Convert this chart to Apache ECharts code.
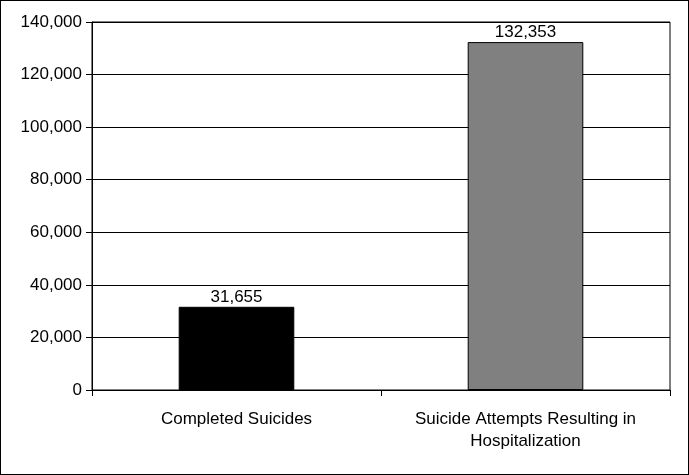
<!DOCTYPE html>
<html><head><meta charset="utf-8">
<script src="https://cdn.jsdelivr.net/npm/echarts@6/dist/echarts.min.js"></script>
<style>body{margin:0;background:#fff}#c{width:689px;height:475px;box-sizing:border-box;border:1px solid #000}</style>
</head><body><div id="c"></div>
<script>
var categories = ['Completed Suicides', 'Suicide Attempts Resulting in\nHospitalization'];
var values = [31655, 132353];
var barColors = ['#000000', '#808080'];

var chart = echarts.init(document.getElementById('c'));
chart.setOption({
	animation: false,
	grid: {left: 91, right: 18, top: 21, bottom: 84, show: true, borderColor: '#000', borderWidth: 1},
	xAxis: {
		type: 'category', data: categories,
		axisLine: {lineStyle: {color: '#000'}},
		axisTick: {show: true, alignWithLabel: false, length: 6, lineStyle: {color: '#000'}},
		axisLabel: {color: '#000', fontFamily: 'Liberation Sans', fontSize: 17, margin: 18, lineHeight: 22}
	},
	yAxis: {
		type: 'value', min: 0, max: 140000, interval: 20000,
		axisLine: {show: true, lineStyle: {color: '#000'}},
		axisTick: {show: true, length: 6, lineStyle: {color: '#000'}},
		splitLine: {lineStyle: {color: '#000'}},
		axisLabel: {color: '#000', fontFamily: 'Liberation Sans', fontSize: 17, margin: 10}
	},
	series: [{
		type: 'bar', barWidth: '40%',
		data: values.map(function(v, i) {
			return {value: v, itemStyle: {color: barColors[i], borderColor: '#000', borderWidth: 1}};
		}),
		label: {
			show: true, position: 'top', distance: 1, color: '#000',
			fontFamily: 'Liberation Sans', fontSize: 17,
			formatter: function(p) { return p.value.toLocaleString('en-US'); }
		}
	}]
});
</script></body></html>
